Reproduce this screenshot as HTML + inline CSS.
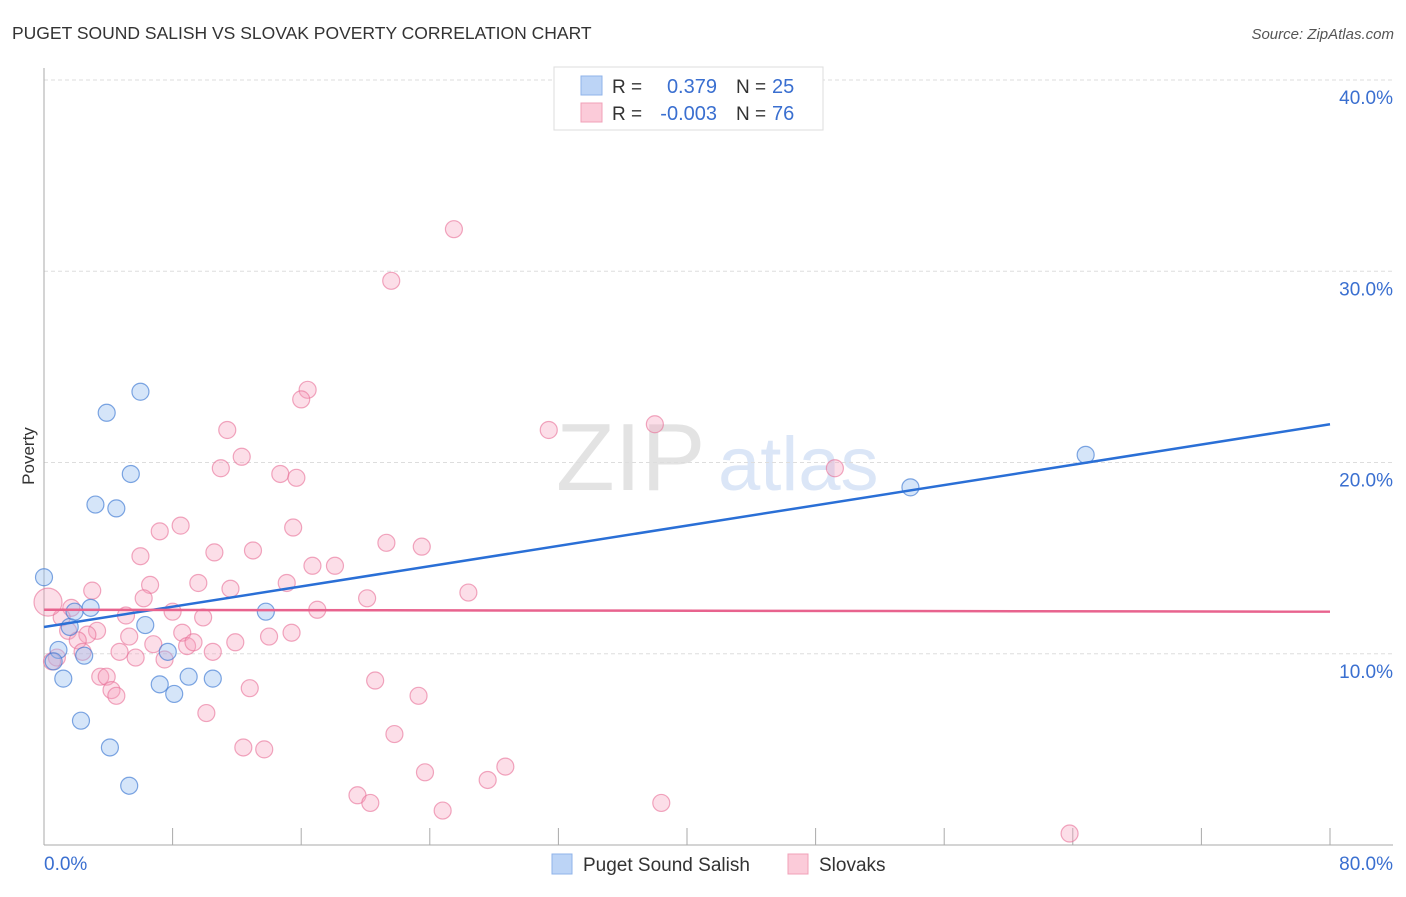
<!DOCTYPE html>
<html><head><meta charset="utf-8"><style>
body{margin:0;background:#fff;font-family:"Liberation Sans",sans-serif;}
svg text{font-family:"Liberation Sans",sans-serif;}
</style></head><body>
<svg width="1406" height="892" viewBox="0 0 1406 892">
<text x="12" y="39" font-size="17.5" fill="#333">PUGET SOUND SALISH VS SLOVAK POVERTY CORRELATION CHART</text>
<text x="1394" y="39" font-size="15" fill="#555" font-style="italic" text-anchor="end">Source: ZipAtlas.com</text>
<text x="556" y="490" font-size="96" fill="#e3e3e3" font-family="Liberation Serif,serif">ZIP</text>
<text x="718" y="490" font-size="76" fill="#dbe6f7">atlas</text>
<g id="grid"></g>
<g id="axes"></g>
<g id="pts"></g>
<g id="lines"></g>
<text x="34" y="456" font-size="17" fill="#333" text-anchor="middle" transform="rotate(-90 34 456)">Poverty</text>
<g>
<rect x="554" y="67" width="269" height="63" fill="#fff" stroke="#ddd"/>
<rect x="581" y="76" width="21" height="19" fill="#bcd4f6" stroke="#8fb3ea"/>
<rect x="581" y="103" width="21" height="19" fill="#fbcbd9" stroke="#f0a0b8"/>
<text x="612" y="93" font-size="19" fill="#333">R =</text>
<text x="717" y="93" font-size="20" fill="#3a6fd0" text-anchor="end">0.379</text>
<text x="736" y="93" font-size="19" fill="#333">N =</text>
<text x="772" y="93" font-size="20" fill="#3a6fd0">25</text>
<text x="612" y="120" font-size="19" fill="#333">R =</text>
<text x="717" y="120" font-size="20" fill="#3a6fd0" text-anchor="end">-0.003</text>
<text x="736" y="120" font-size="19" fill="#333">N =</text>
<text x="772" y="120" font-size="20" fill="#3a6fd0">76</text>
</g>
<g>
<rect x="552" y="854" width="20" height="20" fill="#bcd4f6" stroke="#8fb3ea"/>
<text x="583" y="871" font-size="19" fill="#333">Puget Sound Salish</text>
<rect x="788" y="854" width="20" height="20" fill="#fbcbd9" stroke="#f0a0b8"/>
<text x="819" y="871" font-size="19" fill="#333">Slovaks</text>
</g>
</svg>
<script>
const xTickVals=[0,8,16,24,32,40,48,56,64,72,80];
const yTickVals=[10,20,30,40];
const blueX=[0.0,3.9,6.0,5.4,3.2,4.5,0.9,1.2,1.6,1.9,2.9,2.5,0.6,2.3,4.1,5.3,6.3,7.2,7.7,8.1,9.0,10.5,13.8,53.9,64.8];
const blueY=[14.0,22.6,23.7,19.4,17.8,17.6,10.2,8.7,11.4,12.2,12.4,9.9,9.6,6.5,5.1,3.1,11.5,8.4,10.1,7.9,8.8,8.7,12.2,18.7,20.4];
const pinkX=[25.5,21.6,16.4,16.0,31.4,38.0,11.4,12.3,11.0,14.7,15.7,49.2,8.5,7.2,15.5,6.0,10.6,13.0,21.3,23.5,16.7,18.1,6.6,9.6,3.0,11.6,15.1,26.4,20.1,6.2,8.0,9.9,17.0,5.1,1.7,1.1,1.5,3.3,2.7,5.3,8.6,15.4,2.1,11.9,14.0,6.8,8.9,9.3,4.7,10.5,2.4,5.7,7.5,0.8,0.5,3.5,3.9,4.2,4.5,12.8,20.6,23.3,10.1,21.8,12.4,13.7,23.7,28.7,27.6,19.5,20.3,38.4,24.8,63.8,0.25];
const pinkY=[32.2,29.5,23.8,23.3,21.7,22.0,21.7,20.3,19.7,19.4,19.2,19.7,16.7,16.4,16.6,15.1,15.3,15.4,15.8,15.6,14.6,14.6,13.6,13.7,13.3,13.4,13.7,13.2,12.9,12.9,12.2,11.9,12.3,12.0,12.4,11.9,11.2,11.2,11.0,10.9,11.1,11.1,10.7,10.6,10.9,10.5,10.4,10.6,10.1,10.1,10.1,9.8,9.7,9.8,9.6,8.8,8.8,8.1,7.8,8.2,8.6,7.8,6.9,5.8,5.1,5.0,3.8,4.1,3.4,2.6,2.2,2.2,1.8,0.6,12.7];
const blueLine=[11.4,22.0];
const pinkLine=[12.3,12.2];
const X0=44,X1=1330,Y0=845,Y40=80;
const sx=v=>X0+(X1-X0)*v/80;
const sy=v=>Y0-(Y0-Y40)*v/40;
const NS="http://www.w3.org/2000/svg";
function mk(tag,attrs,parent){const e=document.createElementNS(NS,tag);for(const k in attrs)e.setAttribute(k,attrs[k]);parent.appendChild(e);return e;}
const grid=document.getElementById('grid'),axes=document.getElementById('axes'),pts=document.getElementById('pts'),lines=document.getElementById('lines');
yTickVals.forEach(v=>{
 const l=mk('line',{x1:X0,x2:1393,y1:sy(v),y2:sy(v),stroke:'#ddd','stroke-dasharray':'4,3'},grid);
 
 
 const t=mk('text',{x:1393,y:sy(v)+24,'font-size':19,fill:'#3a6fd0','text-anchor':'end'},axes);
 t.textContent=v.toFixed(1)+'%';
 
 
});
const ya=mk('line',{x1:X0,x2:X0,y1:68,y2:Y0,stroke:'#aaa'},axes);


const xa=mk('line',{x1:X0,x2:1393,y1:Y0,y2:Y0,stroke:'#aaa'},axes);


xTickVals.forEach(v=>{
 const t=mk('line',{x1:sx(v),x2:sx(v),y1:828,y2:Y0,stroke:'#aaa'},axes);
 
 
});
[[0,'start'],[80,'end']].forEach(([v,a])=>{
 const t=mk('text',{x:v===0?44:1393,y:870,'font-size':19,fill:'#3a6fd0','text-anchor':a},axes);
 t.textContent=v.toFixed(1)+'%';
 
 
});
pinkX.forEach((x,i)=>{
 const big=i===pinkX.length-1;
 const c=mk('circle',{cx:sx(x),cy:sy(pinkY[i]),r:big?14:8.5,fill:'rgba(247,160,188,0.35)',stroke:'rgba(232,110,150,0.6)','stroke-width':1.2},pts);
 
 
});
blueX.forEach((x,i)=>{
 const c=mk('circle',{cx:sx(x),cy:sy(blueY[i]),r:8.5,fill:'rgba(150,190,240,0.4)',stroke:'rgba(60,120,210,0.65)','stroke-width':1.2},pts);
 
 
});
const bl=mk('line',{x1:sx(0),y1:sy(blueLine[0]),x2:sx(80),y2:sy(blueLine[1]),stroke:'#2a6fd6','stroke-width':2.5},lines);


const pl=mk('line',{x1:sx(0),y1:sy(pinkLine[0]),x2:sx(80),y2:sy(pinkLine[1]),stroke:'#e8638e','stroke-width':2.5},lines);


</script>
</body></html>
